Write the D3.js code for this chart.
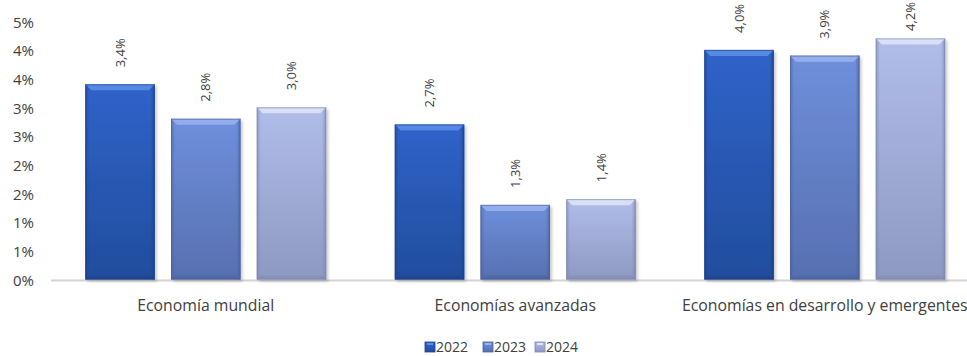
<!DOCTYPE html>
<html>
<head>
<meta charset="utf-8">
<script src="https://cdn.jsdelivr.net/npm/d3@7"></script>
<style>
  html, body { margin: 0; padding: 0; background: #fff; }
  svg { display: block; }
  text { font-family: "Open Sans", "Liberation Sans", sans-serif; fill: #404040; }
</style>
</head>
<body>
<div id="chart"></div>
<script>
// Crecimiento económico por grupo (%)
const categories = ["Economía mundial", "Economías avanzadas", "Economías en desarrollo y emergentes"];
const years = ["2022", "2023", "2024"];
const values2022 = [3.4, 2.7, 4.0];
const values2023 = [2.8, 1.3, 3.9];
const values2024 = [3.0, 1.4, 4.2];
const yTicks = [0, 0.5, 1, 1.5, 2, 2.5, 3, 3.5, 4, 4.5];

const seriesValues = [values2022, values2023, values2024];

const W = 967, H = 356;
const svg = d3.select("#chart").append("svg").attr("width", W).attr("height", H);

// colour ramps per series: bevel highlight, face top, face bottom, edge
const palette = {
  "2022": { hi: "#5d8fe8", top: "#2f63c9", bot: "#214d9d", edge: "#1b3f85" },
  "2023": { hi: "#9ab3ef", top: "#6f8fdc", bot: "#5670b0", edge: "#4a5f96" },
  "2024": { hi: "#dfe5f8", top: "#b1bde9", bot: "#8e99c2", edge: "#7c86ad" }
};

const defs = svg.append("defs");
years.forEach(yr => {
  const p = palette[yr];
  const g = defs.append("linearGradient").attr("id", "face" + yr)
    .attr("x1", 0).attr("y1", 0).attr("x2", 0).attr("y2", 1);
  g.append("stop").attr("offset", "0%").attr("stop-color", p.top);
  g.append("stop").attr("offset", "100%").attr("stop-color", p.bot);
  const h = defs.append("linearGradient").attr("id", "side" + yr)
    .attr("x1", 0).attr("y1", 0).attr("x2", 1).attr("y2", 0);
  h.append("stop").attr("offset", "0%").attr("stop-color", p.edge).attr("stop-opacity", 0.55);
  h.append("stop").attr("offset", "6%").attr("stop-color", p.edge).attr("stop-opacity", 0);
  h.append("stop").attr("offset", "94%").attr("stop-color", p.edge).attr("stop-opacity", 0);
  h.append("stop").attr("offset", "100%").attr("stop-color", p.edge).attr("stop-opacity", 0.7);
});
const sh = defs.append("filter").attr("id", "shadow")
  .attr("x", "-10%").attr("y", "-10%").attr("width", "130%").attr("height", "130%");
sh.append("feDropShadow").attr("dx", 2).attr("dy", 2).attr("stdDeviation", 1.5)
  .attr("flood-color", "#000").attr("flood-opacity", 0.22);

const x0 = d3.scaleBand().domain(categories).range([51, 51 + 3 * 309.5]).padding(0);
const x1 = d3.scaleBand().domain(years).range([0, x0.bandwidth()])
  .paddingInner(0.19).paddingOuter(0.4);
const y = d3.scaleLinear().domain([0, 4.5]).range([279.5, 279.5 - 4.5 * 57.4]);

// y axis labels (no line, no ticks)
const yAxis = d3.axisLeft(y).tickValues(yTicks).tickSize(0).tickPadding(0)
  .tickFormat(d => d3.format(".0f")(d) + "%");
const gy = svg.append("g").attr("transform", "translate(34,1)").call(yAxis);
gy.select(".domain").remove();
gy.selectAll("text").style("font-size", "15px").style("font-family", "'Open Sans', sans-serif").attr("fill", "#404040");

// baseline
svg.append("line").attr("x1", 51).attr("x2", W).attr("y1", y(0) + 1).attr("y2", y(0) + 1)
  .attr("stroke", "#d4d4d4").attr("stroke-width", 2);

// bars
const data = [];
categories.forEach((c, i) => years.forEach((yr, j) => data.push({ cat: c, year: yr, v: seriesValues[j][i] })));

const bars = svg.append("g").selectAll("g.bar").data(data).join("g").attr("class", "bar");
bars.each(function(d) {
  const g = d3.select(this);
  const bx = x0(d.cat) + x1(d.year), bw = x1.bandwidth();
  const by = y(d.v), bh = y(0) - y(d.v);
  const p = palette[d.year];
  const bev = 6;
  g.append("rect").attr("x", bx).attr("y", by).attr("width", bw).attr("height", bh)
    .attr("fill", `url(#face${d.year})`).attr("filter", "url(#shadow)");
  g.append("rect").attr("x", bx).attr("y", by).attr("width", bw).attr("height", bh)
    .attr("fill", `url(#side${d.year})`);
  // top bevel
  g.append("path")
    .attr("d", `M${bx},${by} L${bx + bw},${by} L${bx + bw - bev},${by + bev} L${bx + bev},${by + bev} Z`)
    .attr("fill", p.hi).attr("opacity", 0.85);
  // bottom bevel
  g.append("path")
    .attr("d", `M${bx},${by + bh} L${bx + bw},${by + bh} L${bx + bw - 4},${by + bh - 4} L${bx + 4},${by + bh - 4} Z`)
    .attr("fill", p.edge).attr("opacity", 0.45);
  g.append("rect").attr("x", bx + 0.5).attr("y", by + 0.5).attr("width", bw - 1).attr("height", bh - 1)
    .attr("fill", "none").attr("stroke", p.edge).attr("stroke-opacity", 0.6).attr("stroke-width", 1);
  // value label, rotated; kept inside the top edge of the drawing
  const cx = bx + bw / 2;
  const label = g.append("text")
    .attr("text-anchor", "start").attr("dy", "0.35em")
    .style("font-size", "13px")
    .text(d3.format(".1f")(d.v).replace(".", ",") + "%");
  const len = label.node().getComputedTextLength();
  const ly = Math.max(by - 17, len + 2);
  label.attr("transform", `translate(${cx},${ly}) rotate(-90)`);
});

// category labels
svg.append("g").selectAll("text").data(categories).join("text")
  .attr("x", d => x0(d) + x0.bandwidth() / 2).attr("y", 305).attr("dy", "0.35em")
  .attr("text-anchor", "middle").style("font-size", "15.8px").text(d => d);

// legend
const legendX = [425, 483, 535];
const lg = svg.append("g").selectAll("g").data(years).join("g")
  .attr("transform", (d, i) => `translate(${legendX[i]},342)`);
lg.append("rect").attr("width", 10).attr("height", 10).attr("fill", d => `url(#face${d})`)
  .attr("stroke", d => palette[d].edge).attr("stroke-width", 0.8);
lg.append("rect").attr("x", 2).attr("y", 1).attr("width", 6).attr("height", 2).attr("fill", d => palette[d].hi);
lg.append("text").attr("x", 11).attr("y", 5).attr("dy", "0.35em").style("font-size", "14px").text(d => d);
</script>
</body>
</html>
